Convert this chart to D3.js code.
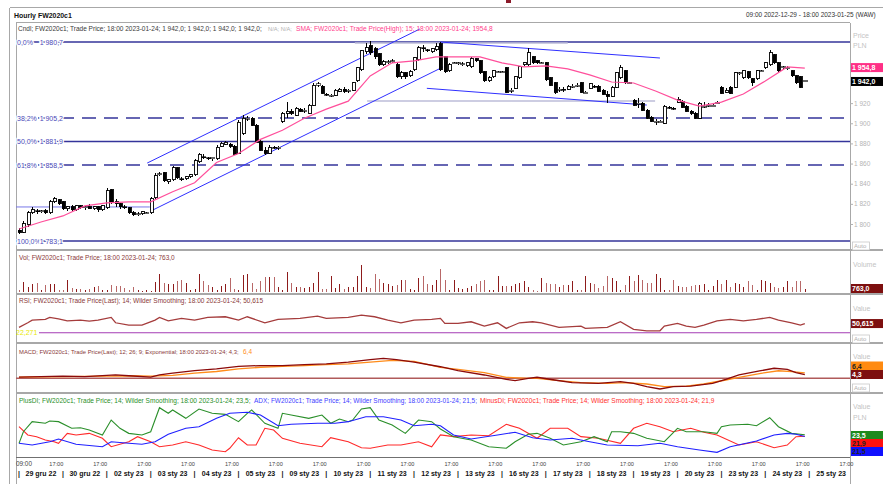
<!DOCTYPE html>
<html><head><meta charset="utf-8">
<script src="https://cdnjs.cloudflare.com/ajax/libs/d3/7.8.5/d3.min.js"></script>
<style>
body{margin:0;background:#fff}
svg{display:block}
text{font-family:"Liberation Sans",Arial,sans-serif}
</style>
</head><body>
<svg id="chart" width="883" height="484"></svg>
<script>
// ---- data ----
var days = ["29 gru 22","30 gru 22","02 sty 23","03 sty 23","04 sty 23","05 sty 23","09 sty 23","10 sty 23","11 sty 23","12 sty 23","13 sty 23","16 sty 23","17 sty 23","18 sty 23","19 sty 23","20 sty 23","23 sty 23","24 sty 23","25 sty 23"];

var opens = [1794,1792,1799,1811,1813,1812,1813,1811,1822,1824, 1822,1815,1817,1814,1818,1816,1817,1815,1817,1814,
  1816,1834,1822,1820,1817,1816,1811,1809,1810,1811, 1811,1826,1849,1851,1842,1844,1856,1845,1845,1847,
  1849,1862,1867,1866,1865,1865,1877,1879,1879,1877, 1870,1890,1904,1905,1898,1882,1873,1870,1876,1875,
  1902,1910,1912,1908,1914,1912,1910,1918,1938,1937, 1929,1928,1928,1932,1934,1932,1933,1942,1953,1971,
  1977,1974,1969,1958,1961,1961,1958,1946,1950,1947, 1953,1963,1975,1973,1971,1973,1979,1966,1952,1960,
  1960,1959,1957,1956,1964,1962,1951,1942,1946,1951, 1951,1955,1932,1935,1945,1958,1958,1966,1962,1960,
  1960,1945,1940,1933,1934,1934,1937,1937,1940,1931, 1935,1937,1937,1933,1929,1927,1936,1945,1952,1940,
  1923,1919,1920,1913,1906,1902,1902,1900,1916,1915, 1921,1922,1917,1912,1910,1905,1917,1917,1918,1920,
  1936,1931,1936,1936,1950,1945,1951,1944,1944,1952, 1955,1958,1968,1960,1955,1955,1952,1947,1946,1942];
var highs = [1796,1803,1813,1817,1815,1814,1815,1824,1827,1825, 1823,1818,1819,1819,1819,1818,1820,1818,1818,1819,
  1836,1835,1825,1821,1819,1817,1813,1812,1813,1812, 1827,1851,1852,1852,1845,1858,1857,1847,1848,1850,
  1865,1870,1869,1867,1866,1878,1881,1882,1880,1878, 1903,1908,1907,1906,1899,1883,1876,1878,1877,1877,
  1911,1921,1914,1916,1915,1915,1919,1940,1941,1938, 1930,1929,1934,1935,1936,1934,1941,1956,1973,1980,
  1982,1976,1970,1963,1963,1964,1960,1952,1951,1953, 1966,1977,1978,1974,1975,1980,1981,1967,1960,1961,
  1961,1961,1961,1966,1965,1963,1952,1947,1953,1952, 1952,1956,1935,1947,1957,1961,1975,1967,1963,1961,
  1961,1946,1941,1936,1936,1938,1939,1940,1941,1932, 1940,1938,1938,1934,1932,1937,1951,1958,1953,1941,
  1924,1925,1921,1914,1907,1904,1903,1918,1917,1916, 1926,1923,1918,1913,1911,1921,1921,1920,1919,1922,
  1937,1935,1937,1951,1951,1953,1952,1945,1953,1953, 1961,1973,1969,1961,1957,1957,1953,1948,1947,1942];
var lows = [1790,1791,1797,1810,1810,1811,1810,1810,1821,1819, 1814,1813,1813,1813,1815,1814,1815,1814,1812,1813,
  1815,1820,1817,1815,1815,1810,1808,1808,1809,1810, 1810,1825,1848,1842,1840,1843,1845,1843,1844,1846,
  1848,1861,1865,1864,1863,1864,1876,1878,1875,1868, 1869,1888,1902,1897,1880,1872,1868,1869,1874,1873,
  1900,1905,1908,1907,1911,1910,1909,1917,1936,1929, 1927,1926,1927,1931,1930,1930,1932,1941,1952,1969,
  1968,1964,1957,1957,1959,1960,1945,1944,1944,1946, 1952,1962,1971,1971,1970,1972,1952,1950,1951,1959,
  1958,1957,1956,1955,1961,1949,1941,1941,1945,1950, 1950,1930,1930,1934,1944,1957,1957,1959,1959,1959,
  1942,1937,1929,1931,1931,1933,1935,1936,1930,1930, 1934,1935,1931,1928,1920,1926,1935,1944,1939,1939,
  1917,1915,1912,1904,1901,1898,1901,1899,1914,1913, 1920,1915,1911,1908,1904,1904,1915,1916,1917,1920,
  1929,1930,1929,1935,1948,1944,1944,1937,1943,1951, 1954,1957,1959,1951,1953,1953,1946,1939,1935,1942];
var closes = [1792,1800,1811,1814,1812,1813,1811,1822,1825,1820, 1815,1817,1814,1818,1816,1817,1815,1817,1814,1818,
  1833,1822,1820,1817,1816,1811,1809,1810,1812,1811, 1825,1848,1850,1843,1844,1856,1846,1844,1847,1849,
  1863,1869,1866,1865,1866,1876,1880,1881,1877,1869, 1901,1905,1905,1898,1881,1873,1870,1876,1875,1876,
  1910,1912,1910,1915,1912,1913,1918,1938,1939,1930, 1928,1928,1933,1934,1932,1933,1940,1955,1972,1975,
  1970,1966,1958,1961,1961,1962,1946,1950,1946,1951, 1965,1975,1974,1972,1974,1976,1953,1951,1958,1960,
  1960,1959,1960,1964,1962,1950,1942,1945,1952,1951, 1951,1931,1933,1946,1956,1960,1970,1960,1960,1960,
  1943,1938,1931,1934,1933,1937,1937,1938,1931,1931, 1939,1936,1932,1929,1927,1936,1950,1955,1940,1940,
  1918,1920,1913,1905,1902,1902,1902,1917,1915,1914, 1924,1916,1912,1910,1905,1920,1917,1918,1918,1921,
  1930,1933,1930,1950,1950,1952,1945,1940,1952,1952, 1960,1970,1960,1952,1956,1955,1947,1940,1936,1942];
var volumes = [420,2500,1250,2080,2250,580,1670,1920,2080,420, 580,2920,1080,830,830,580,830,1250,1420,580,
  420,1670,1420,1420,1080,580,1250,580,250,420, 250,2500,4420,2250,1920,2080,2750,3080,2250,420,
  830,4420,2750,1670,1250,420,1420,1920,3580,830, 580,4250,4420,2250,830,2750,3750,3750,3750,1250,
  580,5000,2250,1250,1250,1080,1250,2250,5000,830, 830,3920,1080,2080,830,1250,1250,3920,6670,1250,
  1080,4420,3330,2250,2080,1420,1670,3080,3080,830, 420,3580,3920,1920,1670,3080,
  5830,2920,420,2920,1080,830,1000,1420,2080,2750, 2920,420,580,3920,1420,1420,1420,1920,2250,2750,
  1250,420,250,3580,2250,2080,1920,1250,1670,1670, 2750,580,420,3920,2250,1920,1080,1420,3920,3580,
  2750,580,1670,3920,2750,4170,3080,2250,2250,4580, 3580,580,580,2920,1420,1250,1250,1420,1670,1670,
  1920,420,1420,3080,1920,3080,1250,2250,1920,1250, 2750,1670,580,3080,2750,2250,1250,1080,1250,2750,
  1250,2750,2750,763];

// SMA(15, High) sampled along the bars
var smaIdx = [0,5,10,15,20,25,30,35,40,45,50,55,60,65,70,75,80,85,90,95,100,105,110,115,120,125,130,135,140,145,150,155,160,165,170,175,179];
var smaVal = [1795,1802,1808,1818,1821,1822,1822,1832,1841,1861,1870,1884,1893,1905,1914,1922,1947,1960,1962,1966,1966,1966,1960,1956,1957,1954,1948,1941,1940,1932,1923,1917,1921,1929,1942,1956,1954.8];

var fibPct = ["0,0%","38,2%","50,0%","61,8%","100,0%"];
var fibVal = [1980.7,1905.2,1881.9,1858.5,1783.1];

// trend lines [startIdx, startPrice, endIdx, endPrice]
var channelLines = [[30.5,1813.9,96.6,1955.9],[29.2,1860.5,91.3,1993.6],[95.9,1980.7,146,1964.8],[92.9,1934.7,143,1918.1]];
var guideLines = [[76.5,1979.7,125,1979.7],[79.3,1922.1,144.9,1922.1]];
var supportLine = [-0.7,1816.9,29.8,1816.9];
// 1940 and 1960 sit under the price boxes in the original
var priceTicks = [1800,1820,1840,1860,1880,1900,1920];

var rsiIdx = [0,2,3,6,7,9,11,14,16,18,21,22,25,28,31,32,34,37,40,43,47,50,52,56,59,64,68,70,75,78,81,84,87,90,94,96,97,100,103,106,109,111,114,117,119,123,128,129,134,137,140,143,146,147,150,152,154,156,159,162,165,168,171,173,176,178,179];
var rsiVal = [38.8,53,61.3,63.5,69.6,65.3,59.1,61.3,58.2,61.3,69.6,53,45.9,45.9,61.3,69.6,59.1,66.5,61.3,69.6,71.5,61.3,71.5,53,63.5,66.5,73.6,66.5,69.6,76.7,71.5,61.3,53,61.3,63.5,66.5,51.1,51.1,56.1,42.8,53,35.7,53,56.1,53,38.8,42.8,35.7,38.8,56.1,32.7,28.3,28.3,42.8,51.1,42.8,38.8,45.9,59.1,63.5,59.1,63.5,69.6,61.3,53,45.9,50.615];
var rsiLevel = 22.271;

var macdIdx = [0,5,10,15,20,22,25,30,32,35,40,45,50,55,60,65,70,75,80,83,86,90,96,100,106,111,113,116,118,122,126,132,137,140,143,146,149,153,158,161,164,169,172,175,177,179];
var macdVal = [1.5,2,2.5,2,3.5,4,3,1.5,4,6,9,11,14,15,15,16,17,19,22,23.5,22,19,13.6,8.9,3.9,-1.2,-2.8,0,1.2,-2,-5.2,-5.9,-4,-5.9,-9.9,-12.6,-9.9,-9.1,-5.9,-1.2,3.9,8.9,11.8,10.6,6.6,4.3];
var signalIdx = [0,10,20,25,30,35,40,45,50,55,60,65,70,75,80,85,90,96,100,106,111,116,118,123,128,134,138,143,147,152,156,161,164,169,173,176,179];
var signalVal = [1.5,2,2.5,3,2.5,3.5,6,8,11,13,14,15,16,17,19,21,20,12.9,10.6,6.6,1.2,0,0,-2.8,-5.2,-5.9,-5.2,-6.7,-9.9,-9.1,-6.7,-2,1.2,5.9,8.9,7.8,6.4];

var plusIdx = [0,1,3,6,7,9,12,14,16,19,21,23,25,28,30,32,34,35,38,41,44,47,50,52,53,56,59,60,62,66,69,71,73,75,76,78,80,82,85,88,91,94,96,99,103,107,111,113,116,118,121,124,128,131,134,135,137,140,143,147,150,152,156,159,160,162,166,168,171,173,176,179];
var plusVal = [14.4,26.6,37.2,35.5,37.9,37.2,30.2,30.8,28.4,23.2,38.9,30.2,24.9,23.2,26.6,51.9,46,49.5,40.7,50.5,46,44.9,37.2,46,49.5,35.5,30.2,46,44.2,40.7,44.2,35.5,40,37.2,38.9,50.5,51.9,38.9,33.7,24.9,38.9,37.2,29.5,21.4,17.9,10.8,9.2,16.1,23.9,24.9,19.7,12.6,16.1,21.4,16.1,26.6,26.6,24.9,19.7,16.1,30.2,26.6,26.6,24.9,31.9,33.7,34.4,32.9,41.4,31.9,24.9,23.5];
var adxIdx = [0,3,7,9,13,19,21,25,28,31,34,38,41,45,48,52,55,59,62,68,72,75,79,83,87,90,94,96,99,103,109,113,117,121,126,130,134,141,146,150,155,159,162,168,172,175,177,179];
var adxVal = [14.4,12.6,16.1,18.9,13.4,10.8,16.1,14.4,13.4,16.1,23.9,30.2,31.9,40.7,46,47.1,44.2,32.9,34.4,35.5,35.5,37.2,42.4,42.4,38.9,32.9,34.4,32.9,23.2,18.9,23.2,26,20.3,17.9,19.7,16.1,12.6,11.9,14.4,10.8,7.4,4.9,10.8,16.8,23.2,24.9,23.9,21.5];
var minusIdx = [0,2,4,6,8,9,11,13,16,19,21,25,27,30,32,35,38,41,44,47,48,50,52,54,56,58,60,64,69,71,75,78,80,84,87,91,94,96,99,103,107,111,114,118,121,125,128,132,137,140,143,146,149,153,156,159,164,168,172,175,177,179];
var minusVal = [31.9,23.2,21.4,17.9,16.1,14.4,24.9,23.2,24.9,19.7,10.8,16.1,21.4,16.1,10.8,12.6,16.1,12.6,7.4,5.6,9.2,20.3,12.6,12.6,30.2,28.4,19.7,14.4,10.8,20.3,16.1,9.8,9.2,12.6,12.6,16.1,10.8,23.2,21.4,23.2,22.4,34.4,30.2,19.7,30.2,30.2,21.4,19.7,14.4,30.2,35.5,31.9,26.6,30.2,26,23.2,12.6,16.1,9.8,12.6,21.4,21.9];

// ---- drawing ----
var svg = d3.select("#chart");
var left = 16, right = 850;
var fmt = d3.formatLocale({decimal: ",", thousands: " ", grouping: [3]});
var f0 = fmt.format(",.0f"), f1 = fmt.format(",.1f");

var x = d3.scaleLinear().domain([0, 179]).range([19, 19 + 179 * 4.39]);
var yP = d3.scaleLinear().domain([fibVal[4], fibVal[0]]).range([241, 42]);
var yV = d3.scaleLinear().domain([0, 7500]).range([292, 262]);
var yR = d3.scaleLinear().domain([0, 100]).range([340, 307.5]);
var yM = d3.scaleLinear().domain([-10, 10]).range([386.8, 369.8]);
var yD = d3.scaleLinear().domain([0, 60]).range([457, 400]);

function clip(id, y0, y1) {
  svg.append("clipPath").attr("id", id).append("rect")
    .attr("x", left).attr("y", y0).attr("width", right - left).attr("height", y1 - y0);
}
clip("cp", 23, 250); clip("cv", 250, 294); clip("cr", 294, 343); clip("cm", 343, 393); clip("cd", 393, 457);

// text helper; "len" shrinks the font until the text is that wide
function txt(g, s, xx, yy, size, color, opts) {
  opts = opts || {};
  var t = g.append("text").attr("x", xx).attr("y", yy).attr("font-size", size).attr("fill", color).text(s);
  if (opts.anchor) t.attr("text-anchor", opts.anchor);
  if (opts.bold) t.attr("font-weight", "bold");
  if (opts.len) {
    var w = t.node().getComputedTextLength();
    if (w > 0) t.attr("font-size", size * opts.len / w);
  }
  return t;
}

// frames
var frame = svg.append("g").attr("stroke", "#a8a8a8").attr("shape-rendering", "crispEdges");
frame.append("line").attr("x1", 9.5).attr("x2", 883).attr("y1", 7.5).attr("y2", 7.5);
frame.append("line").attr("x1", 9.5).attr("x2", 9.5).attr("y1", 7.5).attr("y2", 484);
frame.append("line").attr("x1", left).attr("x2", right).attr("y1", 22.5).attr("y2", 22.5);
frame.append("line").attr("x1", left + 0.5).attr("x2", left + 0.5).attr("y1", 22.5).attr("y2", 484);
frame.append("line").attr("x1", right + 0.5).attr("x2", right + 0.5).attr("y1", 22.5).attr("y2", 484);
[250, 294, 343, 393].forEach(function (yy) {
  frame.append("line").attr("x1", left).attr("x2", 883).attr("y1", yy).attr("y2", yy).attr("stroke-width", 2);
});
frame.append("line").attr("x1", left).attr("x2", right).attr("y1", 457.5).attr("y2", 457.5).attr("stroke", "#707070");
svg.append("rect").attr("x", 506).attr("y", 0).attr("width", 5).attr("height", 3).attr("fill", "#8b1a2a");

// titles
txt(svg, "Hourly FW2020c1", 14, 18, 7.5, "#111", {bold: true, len: 58});
txt(svg, "09:00 2022-12-29 - 18:00 2023-01-25 (WAW)", 746, 17, 7, "#333", {len: 130});

// ---- price panel ----
var gp = svg.append("g").attr("clip-path", "url(#cp)");
fibVal.forEach(function (v, k) {
  gp.append("line").attr("x1", left).attr("x2", right).attr("y1", yP(v)).attr("y2", yP(v))
    .attr("stroke", "#34349a").attr("stroke-width", 1.4)
    .attr("stroke-dasharray", k % 2 ? "14,8" : null);
});
function seg(g, s, color, w) {
  g.append("line").attr("x1", x(s[0])).attr("y1", yP(s[1])).attr("x2", x(s[2])).attr("y2", yP(s[3]))
    .attr("stroke", color).attr("stroke-width", w);
}
guideLines.forEach(function (s) { seg(gp, s, "#bcbcd8", 1.6); });
seg(gp, supportLine, "#7878e8", 1);
channelLines.forEach(function (s) { seg(gp, s, "#2f2fff", 1); });

fibVal.forEach(function (v, k) {
  [[fibPct[k], 17, "start"], [f1(v), 63, "end"]].forEach(function (p) {
    txt(gp, p[0], p[1], yP(v) + 2.5, 7, "#4a4ab8", {anchor: p[2]})
      .attr("stroke", "#fff").attr("stroke-width", 2.5).attr("paint-order", "stroke");
  });
});

// candles
var idx = d3.range(closes.length);
var cg = gp.append("g").attr("shape-rendering", "crispEdges");
idx.forEach(function (i) {
  var cx = Math.round(x(i)) + 0.5;
  cg.append("line").attr("x1", cx).attr("x2", cx).attr("y1", yP(highs[i])).attr("y2", yP(lows[i]))
    .attr("stroke", "#000");
  var top = yP(Math.max(opens[i], closes[i])), bot = yP(Math.min(opens[i], closes[i]));
  var flat = bot - top < 1.5;
  cg.append("rect").attr("x", cx - (flat ? 2 : 1.5)).attr("width", flat ? 4 : 3)
    .attr("y", top).attr("height", Math.max(1, bot - top))
    .attr("fill", closes[i] >= opens[i] ? "#fff" : "#000").attr("stroke", "#000").attr("stroke-width", flat ? 0.6 : 0.9);
});
var smaLine = d3.line().x(function (d) { return x(d[0]); }).y(function (d) { return yP(d[1]); });
gp.append("path").datum(d3.zip(smaIdx, smaVal)).attr("d", smaLine)
  .attr("fill", "none").attr("stroke", "#ff4f9b").attr("stroke-width", 1.2);

txt(svg, "Cndl; FW2020c1; Trade Price; 18:00 2023-01-24; 1 942,0; 1 942,0; 1 942,0; 1 942,0;", 18, 30.5, 7, "#3a3a3a", {len: 244});
txt(svg, "N/A; N/A;", 268, 30.5, 7, "#b0b0b0", {len: 24});
txt(svg, "SMA; FW2020c1; Trade Price(High); 15; 18:00 2023-01-24; 1954,8", 296, 30.5, 7, "#ff3d8b", {len: 197});

// price axis
var ax = svg.append("g").attr("transform", "translate(" + right + ",0)")
  .call(d3.axisRight(yP).tickValues(priceTicks).tickSize(3).tickPadding(1).tickFormat(f0));
ax.select(".domain").remove();
ax.selectAll("line").attr("stroke", "#b0b0b0");
ax.selectAll("text").attr("fill", "#b4b4b4").attr("font-size", 6.5).attr("font-family", "Liberation Sans, Arial");
txt(svg, "Price", 853, 38, 7, "#c4c4c4");
txt(svg, "PLN", 853, 48, 7, "#c4c4c4");

function valueBox(yc, label, bg, fg) {
  svg.append("rect").attr("x", 851).attr("y", yc - 4.5).attr("width", 32).attr("height", 9).attr("fill", bg);
  txt(svg, label, 852, yc + 2.6, 7, fg, {bold: true});
}
function autoBox(yy) {
  svg.append("rect").attr("x", 852.5).attr("y", yy).attr("width", 17).attr("height", 8)
    .attr("fill", "#fff").attr("stroke", "#c8c8c8").attr("stroke-width", 0.8);
  txt(svg, "Auto", 854, yy + 6.3, 6, "#b0b0b0");
}
valueBox(yP(smaVal[smaVal.length - 1]) - 0.5, f1(smaVal[smaVal.length - 1]), "#ff2f86", "#fff");
valueBox(yP(closes[179]) + 0.5, f1(closes[179]), "#000", "#fff");
autoBox(242);

// ---- volume ----
var gv = svg.append("g").attr("clip-path", "url(#cv)").attr("shape-rendering", "crispEdges");
idx.forEach(function (i) {
  gv.append("rect").attr("x", Math.round(x(i))).attr("width", 1.4)
    .attr("y", yV(volumes[i])).attr("height", yV(0) - yV(volumes[i]))
    .attr("fill", closes[i] >= opens[i] ? "#8e1b1b" : "#b86868");
});
txt(svg, "Vol; FW2020c1; Trade Price; 18:00 2023-01-24; 763,0", 19, 259.5, 7, "#8a3a3a", {len: 156});
txt(svg, "Volume", 853, 267, 7, "#c4c4c4");
valueBox(288.5, fmt.format(",.1f")(volumes[179]), "#7d0f0f", "#fff");

// ---- RSI ----
var gr = svg.append("g").attr("clip-path", "url(#cr)");
gr.append("line").attr("x1", 39).attr("x2", right).attr("y1", yR(rsiLevel)).attr("y2", yR(rsiLevel))
  .attr("stroke", "#a43cb4").attr("stroke-width", 1);
txt(gr, fmt.format(",.3f")(rsiLevel), 16, yR(rsiLevel) + 2.5, 7, "#e8e800");
var lineOf = function (ys) {
  return d3.line().x(function (d) { return x(d[0]); }).y(function (d) { return ys(d[1]); });
};
gr.append("path").datum(d3.zip(rsiIdx, rsiVal)).attr("d", lineOf(yR))
  .attr("fill", "none").attr("stroke", "#a53c3c").attr("stroke-width", 1.3);
txt(svg, "RSI; FW2020c1; Trade Price(Last); 14; Wilder Smoothing; 18:00 2023-01-24; 50,615", 19, 303, 7, "#8a3a3a", {len: 245});
txt(svg, "Value", 853, 311, 7, "#c4c4c4");
valueBox(yR(rsiVal[rsiVal.length - 1]), fmt.format(",.3f")(rsiVal[rsiVal.length - 1]), "#7d0f0f", "#fff");
autoBox(335);

// ---- MACD ----
var gm = svg.append("g").attr("clip-path", "url(#cm)");
gm.append("line").attr("x1", left).attr("x2", right).attr("y1", yM(0)).attr("y2", yM(0))
  .attr("stroke", "#b05a5a").attr("stroke-width", 1.5);
gm.append("path").datum(d3.zip(signalIdx, signalVal)).attr("d", lineOf(yM))
  .attr("fill", "none").attr("stroke", "#ff8c1a").attr("stroke-width", 1.3);
gm.append("path").datum(d3.zip(macdIdx, macdVal)).attr("d", lineOf(yM))
  .attr("fill", "none").attr("stroke", "#8b0a0a").attr("stroke-width", 1.3);
txt(svg, "MACD; FW2020c1; Trade Price(Last);  12;  26;  9;  Exponential;  18:00 2023-01-24; 4,3;", 19, 353.5, 7, "#8a3a3a", {len: 220});
txt(svg, "6,4", 243, 353.5, 7, "#ff8c1a", {len: 9});
txt(svg, "Value", 853, 359, 7, "#c4c4c4");
valueBox(366, f1(signalVal[signalVal.length - 1]), "#ff8a10", "#222");
valueBox(374.5, f1(macdVal[macdVal.length - 1]), "#7d0f0f", "#fff");
autoBox(384);

// ---- DI / ADX ----
var gd = svg.append("g").attr("clip-path", "url(#cd)");
[[minusIdx, minusVal, "#ff2a2a"], [plusIdx, plusVal, "#2a8f2a"], [adxIdx, adxVal, "#1f1fff"]].forEach(function (s) {
  gd.append("path").datum(d3.zip(s[0], s[1])).attr("d", lineOf(yD))
    .attr("fill", "none").attr("stroke", s[2]).attr("stroke-width", 1.1);
});
txt(svg, "PlusDI; FW2020c1; Trade Price;  14;  Wilder Smoothing;  18:00 2023-01-24; 23,5;", 19, 402.5, 7, "#2a8f2a", {len: 232});
txt(svg, "ADX; FW2020c1; Trade Price;  14;  Wilder Smoothing;  18:00 2023-01-24; 21,5;", 254, 402.5, 7, "#4040ff", {len: 223});
txt(svg, "MinusDI; FW2020c1; Trade Price;  14;  Wilder Smoothing;  18:00 2023-01-24; 21,9", 480, 402.5, 7, "#ff3030", {len: 235});
txt(svg, "Value", 853, 409, 7, "#c4c4c4");
txt(svg, "PLN", 853, 420, 7, "#c4c4c4");
valueBox(435.5, f1(plusVal[plusVal.length - 1]), "#1e8a1e", "#fff");
valueBox(443.5, f1(minusVal[minusVal.length - 1]), "#ff1010", "#222");
valueBox(451.5, f1(adxVal[adxVal.length - 1]), "#1010ff", "#222");

// ---- time axis ----
var gt = svg.append("g");
txt(gt, "09:00", 16, 465.5, 6.5, "#444", {len: 16});
days.forEach(function (d, k) {
  txt(gt, "17:00", x(10 * k + 8.5), 465.5, 6.5, "#444", {anchor: "middle", len: 14});
  txt(gt, d, x(10 * k + 5), 476, 7, "#111", {anchor: "middle", bold: true});
  txt(gt, "|", x(10 * k), 476, 7, "#111", {anchor: "middle", bold: true});
});
</script>
</body></html>
